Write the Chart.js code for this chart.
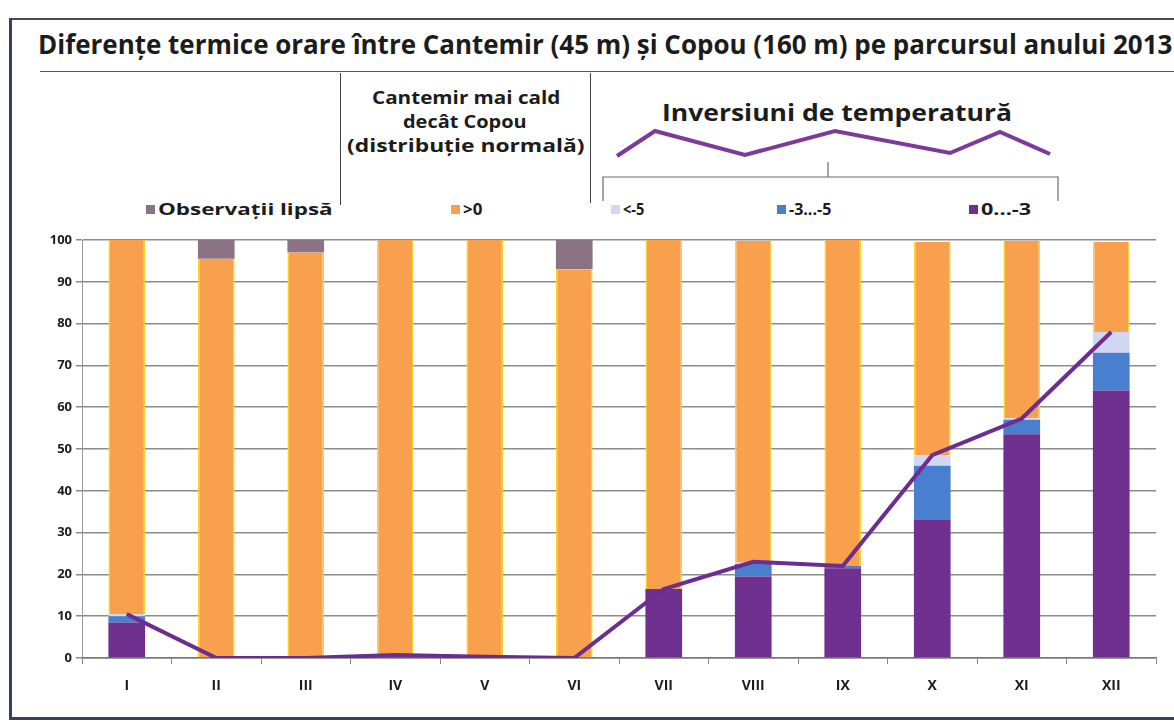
<!DOCTYPE html>
<html>
<head>
<meta charset="utf-8">
<script src="https://cdn.jsdelivr.net/npm/chart.js@4.4.0/dist/chart.umd.min.js"></script>
<style>
  body { margin: 0; width: 1174px; height: 726px; background: #fff; position: relative; overflow: hidden;
         font-family: "Open Sans", sans-serif; color: #1c1c1c; }
  .abs { position: absolute; }
  #frame { left: 9px; top: 18px; width: 1200px; height: 697px; border-left: 3px solid #34415f;
           border-bottom: 3px solid #34415f; border-top: 2px solid #4a4a55; }
  #title { left: 38px; top: 26px; font-weight: 700; font-size: 26px; white-space: nowrap; transform-origin: left top; }
  .fit { white-space: nowrap; transform-origin: left top; }
  #hr { left: 40px; top: 71px; width: 1140px; height: 0; border-top: 1.5px solid #555; }
  .vl { width: 0; border-left: 1.5px solid #444; }
  .warm { font-weight: 700; font-size: 18px; line-height: 24px; }
  #invTxt { left: 662px; top: 95px; font-weight: 700; font-size: 24px; }
  .leg { top: 199px; font-weight: 700; font-size: 16px; line-height: 20px; }
  .sw { position: absolute; width: 9px; height: 9px; top: 205px; }
  #wrap { left: 0; top: 225px; width: 1174px; height: 490px; }
</style>
</head>
<body>
<div id="frame" class="abs"></div>
<div id="title" class="abs">Diferențe termice orare între Cantemir (45 m) și Copou (160 m) pe parcursul anului 2013</div>
<div id="hr" class="abs"></div>
<div class="abs vl" style="left:340px; top:73px; height:132px;"></div>
<div class="abs vl" style="left:590px; top:73px; height:130px;"></div>
<div id="w1" class="abs warm fit" style="left:372px; top:85px;">Cantemir mai cald</div>
<div id="w2" class="abs warm fit" style="left:403px; top:109px;">decât Copou</div>
<div id="w3" class="abs warm fit" style="left:347px; top:133px;">(distribuție normală)</div>
<div id="invTxt" class="abs fit">Inversiuni de temperatură</div>
<svg class="abs" style="left:0; top:0;" width="1174" height="226">
  <polyline points="617,156 655,131 745,155 835,131 950,153 1000,132 1050,154"
            fill="none" stroke="#7d3a98" stroke-width="4" stroke-linejoin="miter"/>
  <path d="M603,201 L603,177 L1058,177 L1058,201 M828,177 L828,162" fill="none" stroke="#6a6a6a" stroke-width="1.2"/>
</svg>
<div id="legend"></div>
<div id="wrap" class="abs"><canvas id="myChart"></canvas></div>

<script>
// months of 2013
var months = ['I', 'II', 'III', 'IV', 'V', 'VI', 'VII', 'VIII', 'IX', 'X', 'XI', 'XII'];

// share of hours (%) per class
var inv0to3   = [8.5, 0, 0, 0.7, 0.3, 0, 16.5, 19.5, 21.5, 33, 53.5, 64];
var inv3to5   = [1.5, 0, 0, 0, 0, 0, 0, 3, 0.5, 13, 3.5, 9];
var invBelow5 = [0.5, 0, 0, 0, 0, 0, 0, 0.3, 0, 2.5, 0.3, 5];
var warmer    = [89.5, 95.5, 97, 99.3, 99.7, 93, 83.5, 77, 78, 51, 42.5, 21.5];
var missing   = [0, 4.5, 3, 0, 0, 7, 0, 0, 0, 0, 0, 0];
// inversion total line
var invTotal  = [10.5, 0, 0, 0.7, 0.3, 0, 16.5, 23, 22, 48.5, 57.3, 78];

var yTicks = [0, 10, 20, 30, 40, 50, 60, 70, 80, 90, 100];

var colors = {
  missing: '#8b7284',
  warmer: '#f9a04e',
  edge: '#ffd426',
  below5: '#d3d8f2',
  mid: '#4a7fcf',
  low: '#70308f',
  line: '#6c2c90'
};

// legend row (html, same colours as the datasets)
var legendItems = [
  { text: 'Observații lipsă', color: colors.missing, x: 146, w: 175 },
  { text: '>0', color: colors.warmer, x: 451, w: 19 },
  { text: '<-5', color: colors.below5, x: 611, w: 21 },
  { text: '-3...-5', color: colors.mid, x: 777, w: 42 },
  { text: '0...-3', color: colors.low, x: 969, w: 50 }
];

function fitWidth(el, w) {
  var cur = el.scrollWidth;
  el.style.transform = 'scaleX(' + (w / cur) + ')';
}

document.addEventListener("DOMContentLoaded", function(event) {
  fitWidth(document.getElementById('title'), 1134);
  fitWidth(document.getElementById('w1'), 188);
  fitWidth(document.getElementById('w2'), 124);
  fitWidth(document.getElementById('w3'), 237);
  fitWidth(document.getElementById('invTxt'), 350);

  var legend = document.getElementById('legend');
  legendItems.forEach(function(it) {
    var sw = document.createElement('div');
    sw.className = 'sw';
    sw.style.left = it.x + 'px';
    sw.style.background = it.color;
    legend.appendChild(sw);
    var d = document.createElement('div');
    d.className = 'abs leg fit';
    d.style.left = (it.x + 12) + 'px';
    d.textContent = it.text;
    legend.appendChild(d);
    fitWidth(d, it.w);
  });

  var ctx = document.getElementById('myChart').getContext('2d');

  var barBase = { type: 'bar', order: 1, stack: 's', barPercentage: 0.41, categoryPercentage: 1 };

  var myChart = new Chart(ctx, {
    data: {
      labels: months,
      datasets: [
        { type: 'line', label: 'Inversiuni', data: invTotal, order: 0, borderColor: colors.line,
          borderWidth: 4, pointRadius: 0, tension: 0, fill: false },
        Object.assign({ label: '0...-3', data: inv0to3, backgroundColor: colors.low }, barBase),
        Object.assign({ label: '-3...-5', data: inv3to5, backgroundColor: colors.mid }, barBase),
        Object.assign({ label: '<-5', data: invBelow5, backgroundColor: colors.below5 }, barBase),
        Object.assign({ label: '>0', data: warmer, backgroundColor: colors.warmer,
          borderColor: colors.edge, borderWidth: { left: 1.5, right: 1.5, top: 0, bottom: 0 },
          borderSkipped: false }, barBase),
        Object.assign({ label: 'Observații lipsă', data: missing, backgroundColor: colors.missing }, barBase)
      ]
    },
    options: {
      responsive: true,
      maintainAspectRatio: false,
      animation: false,
      layout: { padding: { top: 15, right: 18, left: 0, bottom: 0 } },
      plugins: { legend: { display: false }, title: { display: false }, tooltip: { enabled: false } },
      scales: {
        x: {
          stacked: true,
          offset: true,
          grid: { offset: true, drawOnChartArea: false, drawTicks: true, tickLength: 6, color: '#888' },
          border: { color: '#777', width: 1.5 },
          ticks: { color: '#1c1c1c', padding: 14, font: { family: 'Open Sans', weight: 'bold', size: 14 } },
          afterFit: function(scale) { scale.height = 57; }
        },
        y: {
          stacked: true,
          min: 0,
          max: 100,
          afterBuildTicks: function(scale) {
            scale.ticks = yTicks.map(function(v) { return { value: v }; });
          },
          grid: { color: '#8c8c8c', lineWidth: 1.5, tickLength: 6 },
          border: { color: '#999', width: 1 },
          ticks: { color: '#1c1c1c', padding: 4, font: { family: 'Open Sans', weight: 'bold', size: 13 } },
          afterFit: function(scale) { scale.width = 82; }
        }
      }
    }
  });
});
</script>
</body>
</html>
